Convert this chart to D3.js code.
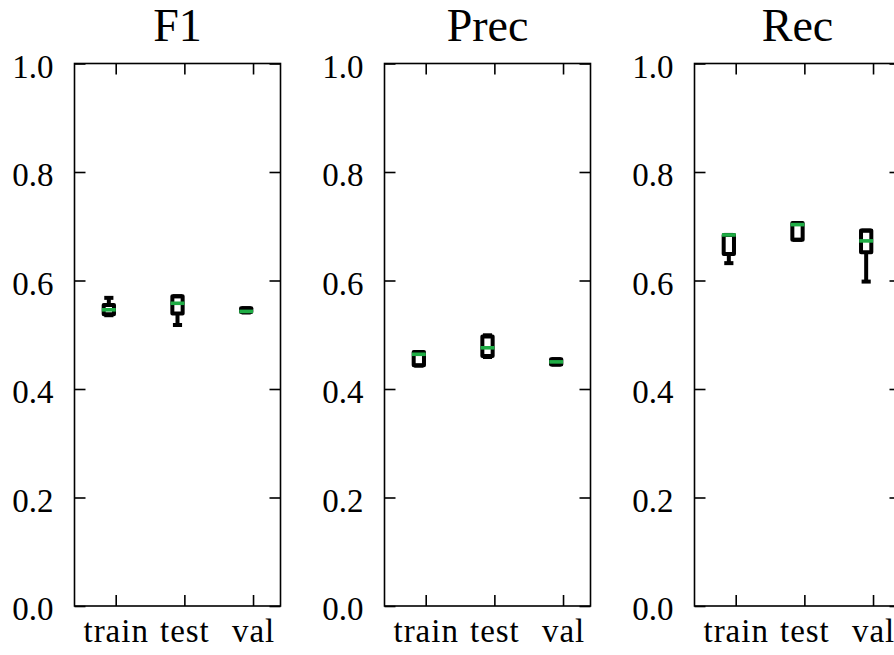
<!DOCTYPE html>
<html>
<head>
<meta charset="utf-8">
<script src="https://cdn.jsdelivr.net/npm/d3@7/dist/d3.min.js"></script>
<style>
  body { margin: 0; background: #fff; }
  svg { display: block; }
</style>
</head>
<body>
<svg id="chart" width="894" height="655"></svg>
<script>
// data
var metrics = ["F1", "Prec", "Rec"];
var categories = ["train", "test", "val"];
var yTicks = [0, 0.2, 0.4, 0.6, 0.8, 1.0];

// one entry per category: [train, test, val]
var whiskerLow = {
    F1:   [0.536, 0.518, 0.541],
    Prec: [0.443, 0.459, 0.445],
    Rec:  [0.632, 0.675, 0.598]
};
var q1 = {
    F1:   [0.538, 0.539, 0.542],
    Prec: [0.444, 0.461, 0.445],
    Rec:  [0.649, 0.675, 0.652]
};
var median = {
    F1:   [0.546, 0.558, 0.543],
    Prec: [0.464, 0.476, 0.450],
    Rec:  [0.684, 0.703, 0.673]
};
var q3 = {
    F1:   [0.555, 0.571, 0.549],
    Prec: [0.468, 0.497, 0.455],
    Rec:  [0.684, 0.706, 0.692]
};
var whiskerHigh = {
    F1:   [0.568, 0.571, 0.549],
    Prec: [0.468, 0.499, 0.455],
    Rec:  [0.684, 0.706, 0.692]
};

var FONT = '"Liberation Serif", "Times New Roman", serif';
var PANEL_LEFT = 74.5;
var PANEL_STEP = 310;
var PANEL_TOP = 63.5;
var PANEL_W = 206;
var PANEL_H = 542.5;
var TICK_LEN = 11;
var BOX_W = 0.15;          // in x data units
var BOX_OFFSET = -0.1;     // boxes sit left of the tick positions
var LINE_W = 4;
var GREEN = "#1fad45";

var svg = d3.select("#chart");

var x = d3.scaleLinear().domain([0.4, 3.4]).range([0, PANEL_W]);
var y = d3.scaleLinear().domain([0, 1]).range([PANEL_H, 0]);

metrics.forEach(function(m, mi) {
    var g = svg.append("g")
        .attr("transform", "translate(" + (PANEL_LEFT + mi * PANEL_STEP) + "," + PANEL_TOP + ")");

    // ticks (inward on all four sides)
    var left = g.append("g")
        .call(d3.axisLeft(y).tickValues(yTicks).tickFormat(d3.format(".1f"))
            .tickSize(-TICK_LEN).tickPadding(21));
    left.selectAll("text")
        .attr("dy", "0.42em")
        .attr("font-family", FONT).attr("font-size", 33)
        .attr("fill", "#000");

    g.append("g")
        .attr("transform", "translate(" + PANEL_W + ",0)")
        .call(d3.axisRight(y).tickValues(yTicks).tickFormat("").tickSize(-TICK_LEN));

    var bottom = g.append("g")
        .attr("transform", "translate(0," + PANEL_H + ")")
        .call(d3.axisBottom(x).tickValues([1, 2, 3])
            .tickFormat(function(d) { return categories[d - 1]; })
            .tickSize(-TICK_LEN));
    bottom.selectAll("text")
        .attr("y", 35.7).attr("dy", 0)
        .attr("font-family", FONT).attr("font-size", 33)
        .attr("letter-spacing", "1px")
        .attr("fill", "#000");

    g.append("g")
        .call(d3.axisTop(x).tickValues([1, 2, 3]).tickFormat("").tickSize(-TICK_LEN));

    g.selectAll(".domain").remove();
    g.selectAll(".tick line").attr("stroke", "#000").attr("stroke-width", 1.6);

    // frame
    g.append("rect")
        .attr("x", 0).attr("y", 0)
        .attr("width", PANEL_W).attr("height", PANEL_H)
        .attr("fill", "none").attr("stroke", "#000").attr("stroke-width", 1.6);

    // title
    g.append("text")
        .attr("x", PANEL_W / 2).attr("y", 40.7 - PANEL_TOP)
        .attr("text-anchor", "middle")
        .attr("font-family", FONT).attr("font-size", 46)
        .attr("fill", "#000")
        .text(m);

    // boxes
    categories.forEach(function(c, ci) {
        var pos = ci + 1 + BOX_OFFSET;
        var cx = x(pos);
        var halfBox = (x(pos + BOX_W / 2) - x(pos - BOX_W / 2)) / 2;
        var halfCap = halfBox / 2;
        var bg = g.append("g").attr("stroke", "#000").attr("stroke-width", LINE_W).attr("fill", "none");

        // whiskers
        bg.append("line")
            .attr("x1", cx).attr("x2", cx)
            .attr("y1", y(q1[m][ci])).attr("y2", y(whiskerLow[m][ci]));
        bg.append("line")
            .attr("x1", cx).attr("x2", cx)
            .attr("y1", y(q3[m][ci])).attr("y2", y(whiskerHigh[m][ci]));
        // caps
        [whiskerLow[m][ci], whiskerHigh[m][ci]].forEach(function(v) {
            bg.append("line")
                .attr("stroke-linecap", "square")
                .attr("x1", cx - halfCap).attr("x2", cx + halfCap)
                .attr("y1", y(v)).attr("y2", y(v));
        });
        // box
        bg.append("rect")
            .attr("stroke-linejoin", "round")
            .attr("x", cx - halfBox).attr("width", 2 * halfBox)
            .attr("y", y(q3[m][ci])).attr("height", y(q1[m][ci]) - y(q3[m][ci]));
        // median
        bg.append("line")
            .attr("stroke", GREEN).attr("stroke-width", 3.6)
            .attr("stroke-linecap", "square")
            .attr("x1", cx - halfBox).attr("x2", cx + halfBox)
            .attr("y1", y(median[m][ci])).attr("y2", y(median[m][ci]));
    });
});
</script>
</body>
</html>
